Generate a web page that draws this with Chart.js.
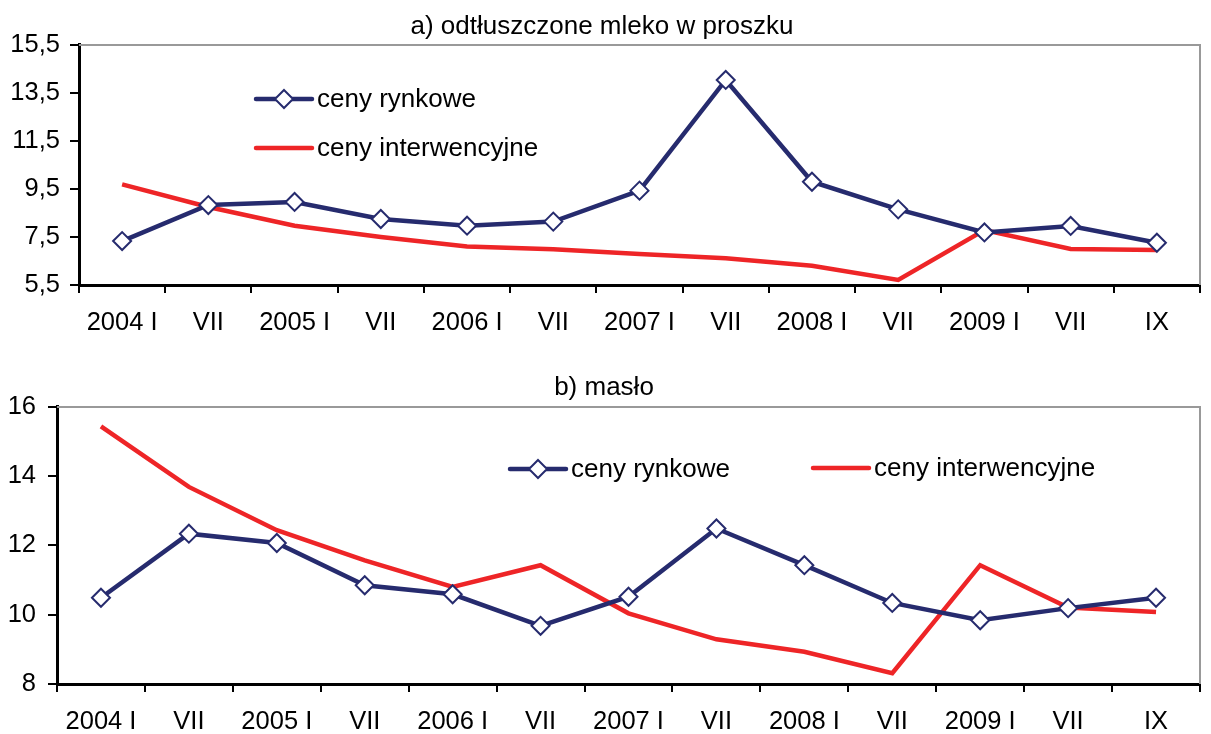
<!DOCTYPE html>
<html>
<head>
<meta charset="utf-8">
<script src="https://cdn.jsdelivr.net/npm/chart.js@4/dist/chart.umd.min.js"></script>
<style>
  body { margin: 0; background: #fff; width: 1211px; height: 734px; overflow: hidden; position: relative; }
  .box { position: absolute; left: 0; width: 1211px; }
</style>
</head>
<body>
<div class="box" style="top:0;height:345px"><canvas id="milk"></canvas></div>
<div class="box" style="top:355px;height:379px"><canvas id="butter"></canvas></div>
<script>
// categories (half-year steps, last one is September 2009)
const months = ["2004 I", "VII", "2005 I", "VII", "2006 I", "VII", "2007 I", "VII", "2008 I", "VII", "2009 I", "VII", "IX"];

// a) skimmed milk powder
const milkMarket = [7.33, 8.83, 8.96, 8.25, 7.97, 8.14, 9.43, 14.04, 9.80, 8.65, 7.69, 7.96, 7.26];
const milkIntervention = [9.69, 8.75, 7.97, 7.5, 7.1, 6.99, 6.79, 6.61, 6.3, 5.71, 7.79, 7.0, 6.96];
const milkTicks = [5.5, 7.5, 9.5, 11.5, 13.5, 15.5];

// b) butter
const butterMarket = [10.49, 12.34, 12.07, 10.85, 10.59, 9.68, 10.52, 12.49, 11.43, 10.34, 9.84, 10.19, 10.49];
const butterIntervention = [15.44, 13.69, 12.44, 11.57, 10.8, 11.43, 10.04, 9.29, 8.93, 8.31, 11.43, 10.21, 10.08];
const butterTicks = [8, 10, 12, 14, 16];

const navy = "#262b6e";
const red = "#ee2527";

Chart.defaults.font.family = "'Liberation Sans', Arial, sans-serif";
Chart.defaults.color = "#000";

//draws a diamond like the point markers
function diamond(ctx, x, y, r) {
  ctx.beginPath();
  ctx.moveTo(x, y - r);
  ctx.lineTo(x + r, y);
  ctx.lineTo(x, y + r);
  ctx.lineTo(x - r, y);
  ctx.closePath();
  ctx.fillStyle = "#fff";
  ctx.fill();
  ctx.strokeStyle = navy;
  ctx.lineWidth = 2;
  ctx.stroke();
}

// grey top/right frame and the legend drawn inside the plot
const framePlugin = {
  id: "frame",
  beforeDatasetsDraw(chart) {
    const { ctx, chartArea: a } = chart;
    ctx.save();
    ctx.strokeStyle = "#999";
    ctx.lineWidth = 2;
    ctx.beginPath();
    ctx.moveTo(a.left, a.top);
    ctx.lineTo(a.right, a.top);
    ctx.lineTo(a.right, a.bottom);
    ctx.stroke();
    ctx.restore();
  },
  afterDraw(chart, args, opts) {
    const ctx = chart.ctx;
    ctx.save();
    chart.data.datasets.forEach((ds, i) => {
      const p = opts.items[i];
      ctx.strokeStyle = ds.borderColor;
      ctx.lineWidth = 4.5;
      ctx.lineCap = "round";
      ctx.beginPath();
      ctx.moveTo(p.x, p.y);
      ctx.lineTo(p.x + 56, p.y);
      ctx.stroke();
      if (ds.pointRadius > 0) diamond(ctx, p.x + 28, p.y, 9);
      ctx.fillStyle = "#000";
      ctx.font = "26px 'Liberation Sans', Arial, sans-serif";
      ctx.textBaseline = "middle";
      ctx.fillText(ds.label, p.x + 61, p.y + 1);
    });
    ctx.restore();
  }
};

function makeChart(id, market, intervention, yTicks, cfg) {
  return new Chart(document.getElementById(id), {
    type: "line",
    data: {
      labels: months,
      datasets: [
        {
          label: "ceny rynkowe",
          data: market,
          borderColor: navy,
          borderWidth: 4.5,
          pointStyle: "rectRot",
          pointRadius: 9,
          pointBackgroundColor: "#fff",
          pointBorderColor: navy,
          pointBorderWidth: 2,
          clip: false,
        },
        {
          label: "ceny interwencyjne",
          data: intervention,
          borderColor: red,
          borderWidth: 4.5,
          pointRadius: 0,
          clip: false,
        },
      ],
    },
    options: {
      responsive: true,
      maintainAspectRatio: false,
      animation: false,
      events: [],
      layout: { padding: { left: 0, right: cfg.right, top: 0, bottom: 0 } },
      plugins: {
        legend: { display: false },
        tooltip: { enabled: false },
        title: {
          display: true,
          text: cfg.title,
          color: "#000",
          font: { size: 26, weight: "normal", lineHeight: 1.15 },
          padding: { top: cfg.titleTop, bottom: cfg.titleBottom },
        },
        frame: { items: cfg.legend },
      },
      scales: {
        x: {
          offset: true,
          grid: { offset: true, drawOnChartArea: false, tickLength: 8, color: "#000", lineWidth: 2 },
          border: { color: "#000", width: 3 },
          ticks: { color: "#000", font: { size: 25.5 }, padding: 15, autoSkip: false, maxRotation: 0 },
          afterFit(s) { s.height = cfg.xHeight; },
        },
        y: {
          min: yTicks[0],
          max: yTicks[yTicks.length - 1],
          grid: { drawOnChartArea: false, tickLength: 9, color: "#000", lineWidth: 2 },
          border: { color: "#000", width: 3 },
          ticks: {
            color: "#000",
            font: { size: 25.5 },
            padding: cfg.yPad,
            callback: (v) => String(v).replace(".", ","),
          },
          afterBuildTicks(s) { s.ticks = yTicks.map((v) => ({ value: v })); },
          afterFit(s) { s.width = cfg.yWidth; },
        },
      },
    },
    plugins: [framePlugin],
  });
}

makeChart("milk", milkMarket, milkIntervention, milkTicks, {
  title: "a) odtłuszczone mleko w proszku",
  titleTop: 12, titleBottom: 3,
  right: 7, xHeight: 60, yWidth: 79, yPad: 10,
  legend: [{ x: 256, y: 99 }, { x: 256, y: 148 }],
});

makeChart("butter", butterMarket, butterIntervention, butterTicks, {
  title: "b) masło",
  titleTop: 18, titleBottom: 4,
  right: 3, xHeight: 50, yWidth: 57, yPad: 12,
  legend: [{ x: 510, y: 114 }, { x: 813, y: 113 }],
});
</script>
</body>
</html>
